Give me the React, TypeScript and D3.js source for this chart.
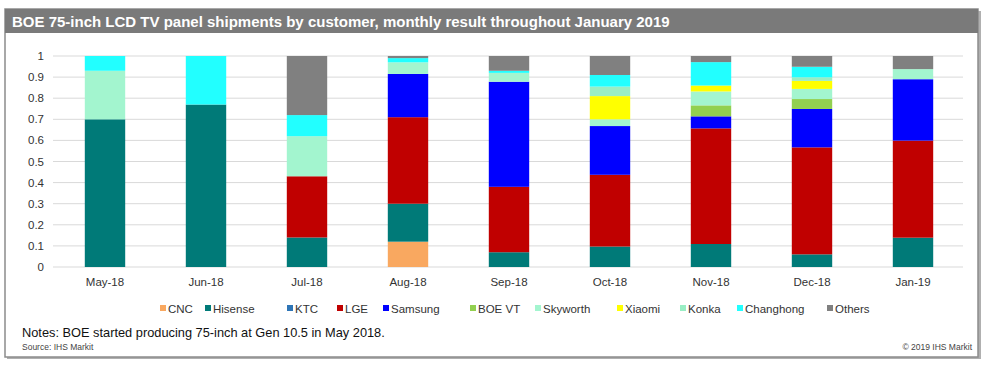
import React from "react";
import * as d3 from "d3";

const months = ["May-18", "Jun-18", "Jul-18", "Aug-18", "Sep-18", "Oct-18", "Nov-18", "Dec-18", "Jan-19"];
const customers = ["CNC", "Hisense", "KTC", "LGE", "Samsung", "BOE VT", "Skyworth", "Xiaomi", "Konka", "Changhong", "Others"];
const colors = ["#F9A860", "#007A78", "#2E75B6", "#C00000", "#0000FF", "#92D050", "#A3F5CF", "#FFFF00", "#99EEC4", "#22FFFF", "#808080"];

const cnc = [0, 0, 0, 0.12, 0, 0, 0, 0, 0];
const hisense = [0.7, 0.77, 0.14, 0.18, 0.07, 0.097, 0.109, 0.06, 0.139];
const ktc = [0, 0, 0, 0, 0, 0, 0, 0, 0];
const lge = [0, 0, 0.29, 0.41, 0.31, 0.34, 0.548, 0.507, 0.46];
const samsung = [0, 0, 0, 0.205, 0.498, 0.231, 0.057, 0.182, 0.291];
const boevt = [0, 0, 0, 0, 0, 0, 0.052, 0.047, 0];
const skyworth = [0.23, 0, 0.19, 0.055, 0.042, 0.032, 0.066, 0.048, 0.048];
const xiaomi = [0, 0, 0, 0, 0, 0.11, 0.028, 0.038, 0];
const konka = [0, 0, 0, 0, 0, 0.045, 0, 0.017, 0];
const changhong = [0.07, 0.23, 0.1, 0.02, 0.01, 0.055, 0.111, 0.05, 0];
const others = [0, 0, 0.28, 0.01, 0.07, 0.09, 0.029, 0.051, 0.062];

const seriesValues = [cnc, hisense, ktc, lge, samsung, boevt, skyworth, xiaomi, konka, changhong, others];
const yTicks = [0, 0.1, 0.2, 0.3, 0.4, 0.5, 0.6, 0.7, 0.8, 0.9, 1];
const yTickLabels = ["0", "0.1", "0.2", "0.3", "0.4", "0.5", "0.6", "0.7", "0.8", "0.9", "1"];

const title = "BOE 75-inch LCD TV panel shipments by customer, monthly result throughout January 2019";
const note = "Notes: BOE started producing 75-inch at Gen 10.5 in May 2018.";
const source = "Source: IHS Markit";
const copyright = "© 2019 IHS Markit";

export default function App() {
  const W = 1000, H = 375;
  const x = d3.scaleBand<string>().domain(months).range([54.5, 963.5]).paddingInner(0.6).paddingOuter(0.3);
  const y = d3.scaleLinear().domain([0, 1]).range([267, 56]);

  const table = months.map((m, i) => {
    const row: any = { month: m };
    customers.forEach((c, k) => (row[c] = seriesValues[k][i]));
    return row;
  });
  const stacked = d3.stack<any>().keys(customers)(table);

  const legendX = [160, 205, 287, 337, 383, 470, 535, 617, 680, 737, 827];
  const font = "Liberation Sans, Arial, sans-serif";

  return (
    <svg width={W} height={H} style={{ position: "absolute", left: 0, top: 0, background: "#fff" }} fontFamily={font}>
      {/* frame shadow */}
      <rect x={7} y={11} width={974} height={348} fill="#b0b0b0" />
      <rect x={5} y={9} width={973} height={348} fill="#fff" stroke="#8c8c8c" strokeWidth={1.5} />
      {/* title bar */}
      <rect x={5} y={9} width={973} height={24} fill="#7a7a7a" />
      <text x={12} y={27} fill="#fff" fontSize={15} fontWeight="bold">{title}</text>

      {/* gridlines */}
      {yTicks.map((t) => (
        <line key={t} x1={53} x2={963} y1={y(t)} y2={y(t)} stroke="#d9d9d9" strokeWidth={1} />
      ))}
      {yTicks.map((t, i) => (
        <text key={"l" + t} x={44} y={y(t) + 4} textAnchor="end" fontSize={11.5} fill="#333">{yTickLabels[i]}</text>
      ))}

      {/* bars */}
      {stacked.map((s, k) => (
        <g key={customers[k]} fill={colors[k]}>
          {s.map((d, i) => {
            const h = y(d[0]) - y(d[1]);
            if (h <= 0) return null;
            return <rect key={i} x={x(months[i])} y={y(d[1])} width={x.bandwidth()} height={h} />;
          })}
        </g>
      ))}

      {/* x labels */}
      {months.map((m) => (
        <text key={m} x={(x(m) as number) + x.bandwidth() / 2} y={286} textAnchor="middle" fontSize={11.5} fill="#333">{m}</text>
      ))}

      {/* legend */}
      {customers.map((c, k) => (
        <g key={c}>
          <rect x={legendX[k]} y={305} width={6} height={6} fill={colors[k]} />
          <text x={legendX[k] + 8} y={312.5} fontSize={11.5} fill="#333">{c}</text>
        </g>
      ))}

      <text x={22} y={337} fontSize={12.8} fill="#111">{note}</text>
      <text x={22} y={350} fontSize={8.5} fill="#444">{source}</text>
      <text x={972} y={350} fontSize={8.5} fill="#444" textAnchor="end">{copyright}</text>
    </svg>
  );
}
